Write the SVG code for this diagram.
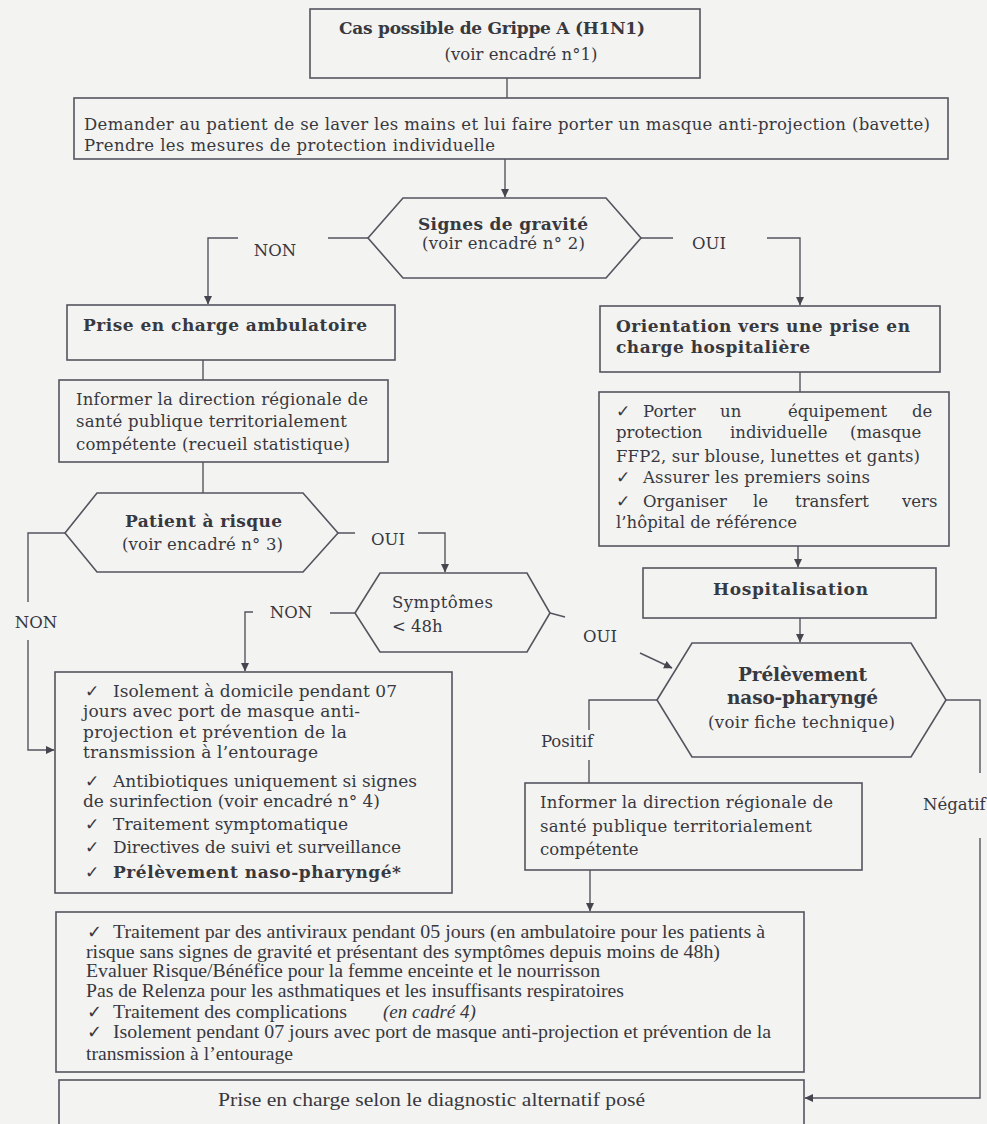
<svg xmlns="http://www.w3.org/2000/svg" width="987" height="1124" viewBox="0 0 987 1124">
<defs>
<marker id="ah" markerWidth="10" markerHeight="10" refX="8" refY="4.5" orient="auto" markerUnits="userSpaceOnUse"><path d="M0,0.5 L8.5,4.5 L0,8.5 z" fill="#45454f"/></marker>
<style>
.bx{fill:#f3f3f1;stroke:#54545f;stroke-width:1.6}
.ln{fill:none;stroke:#54545f;stroke-width:1.4}
.t{font-family:"DejaVu Serif","Liberation Serif",serif;font-size:16.5px;fill:#38383f}
.i{font-size:17px}
.b{font-weight:bold;font-size:17px}
.c{text-anchor:middle}
.n{font-family:"Liberation Serif","DejaVu Serif",serif;font-size:18px;fill:#38383f}
.h{font-family:"Liberation Serif",serif;font-style:italic;font-size:19px;fill:#38383f}
</style>
</defs>
<rect width="987" height="1124" fill="#f3f3f1"/>

<g id="connectors">
<path class="ln" d="M507,78 V98"/>
<path class="ln" d="M505,159 V197" marker-end="url(#ah)"/>
<path class="ln" d="M368,238 H328 M238,238 H208 V304" marker-end="url(#ah)"/>
<path class="ln" d="M641,238 H673 M767,238 H800 V305" marker-end="url(#ah)"/>
<path class="ln" d="M203,360 V380"/>
<path class="ln" d="M203,462 V493"/>
<path class="ln" d="M65,533 H28 V602 M28,640 V750 H54" marker-end="url(#ah)"/>
<path class="ln" d="M338,533 H355 M418,533 H445 V572" marker-end="url(#ah)"/>
<path class="ln" d="M355,613 H330 M253,612 H245 V671" marker-end="url(#ah)"/>
<path class="ln" d="M550,613 L565,617"/>
<path class="ln" d="M640,653 L672,668" marker-end="url(#ah)"/>
<path class="ln" d="M800,372 V392"/>
<path class="ln" d="M798,546 V567" marker-end="url(#ah)"/>
<path class="ln" d="M800,618 V642" marker-end="url(#ah)"/>
<path class="ln" d="M657,700 H589 V730 M589,760 V783"/>
<path class="ln" d="M590,870 V911" marker-end="url(#ah)"/>
<path class="ln" d="M946,700 H980 V773 M980,838 V1098 H805" marker-end="url(#ah)"/>
<text class="t c" x="275" y="256">NON</text>
<text class="t c" x="709" y="249">OUI</text>
<text class="t c" x="36" y="628">NON</text>
<text class="t c" x="388" y="545">OUI</text>
<text class="t c" x="291" y="618">NON</text>
<text class="t c" x="600" y="642">OUI</text>
<text class="t c" x="567" y="747">Positif</text>
<text class="t" x="923" y="810">Négatif</text>
</g>

<g id="n-cas">
<rect class="bx" x="310" y="9" width="390" height="69"/>
<text class="t b" x="339" y="34" textLength="306">Cas possible de Grippe A (H1N1)</text>
<text class="t c" x="521" y="60">(voir encadré n°1)</text>
</g>

<g id="n-demander">
<rect class="bx" x="74" y="98" width="874" height="61"/>
<text class="t" x="84" y="130" textLength="846">Demander au patient de se laver les mains et lui faire porter un masque anti-projection (bavette)</text>
<text class="t" x="84" y="151" textLength="411">Prendre les mesures de protection individuelle</text>
</g>

<g id="n-signes">
<polygon class="bx" points="368,238 403,198 606,198 641,238 606,278 403,278"/>
<text class="t b" x="418" y="230" textLength="170">Signes de gravité</text>
<text class="t" x="422" y="249" textLength="163">(voir encadré n° 2)</text>
</g>

<g id="n-ambulatoire">
<rect class="bx" x="67" y="305" width="328" height="55"/>
<text class="t b" x="83" y="331" textLength="284">Prise en charge ambulatoire</text>
</g>

<g id="n-informer1">
<rect class="bx" x="59" y="380" width="329" height="82"/>
<text class="t" x="76" y="405" textLength="292">Informer la direction régionale de</text>
<text class="t" x="76" y="427" textLength="271">santé publique territorialement</text>
<text class="t" x="76" y="450" textLength="274">compétente (recueil statistique)</text>
</g>

<g id="n-risque">
<polygon class="bx" points="65,533 97,493 303,493 338,533 303,572 97,572"/>
<text class="t b" x="125" y="527" textLength="157">Patient à risque</text>
<text class="t" x="122" y="550" textLength="161">(voir encadré n° 3)</text>
</g>

<g id="n-symptomes">
<polygon class="bx" points="355,613 380,573 527,573 550,613 527,652 380,652"/>
<text class="t" x="392" y="608" textLength="101">Symptômes</text>
<text class="t" x="392" y="632">&lt; 48h</text>
</g>

<g id="n-isolement">
<rect class="bx" x="55" y="672" width="397" height="221"/>
<text class="t i" x="85" y="697">✓</text>
<text class="t i" x="113" y="697" textLength="284">Isolement à domicile pendant 07</text>
<text class="t i" x="83" y="717" textLength="277">jours avec port de masque anti-</text>
<text class="t i" x="83" y="738" textLength="264">projection et prévention de la</text>
<text class="t i" x="83" y="758" textLength="235">transmission à l’entourage</text>
<text class="t i" x="85" y="787">✓</text>
<text class="t i" x="113" y="787" textLength="304">Antibiotiques uniquement si signes</text>
<text class="t i" x="83" y="807" textLength="297">de surinfection (voir encadré n° 4)</text>
<text class="t i" x="85" y="830">✓</text>
<text class="t i" x="113" y="830" textLength="235">Traitement symptomatique</text>
<text class="t i" x="85" y="853">✓</text>
<text class="t i" x="113" y="853" textLength="288">Directives de suivi et surveillance</text>
<text class="t i" x="85" y="878">✓</text>
<text class="t b" x="113" y="878" textLength="288">Prélèvement naso-pharyngé*</text>
</g>

<g id="n-orientation">
<rect class="bx" x="600" y="306" width="340" height="66"/>
<text class="t b" x="616" y="332" textLength="294">Orientation vers une prise en</text>
<text class="t b" x="616" y="353" textLength="194">charge hospitalière</text>
</g>

<g id="n-equipement">
<rect class="bx" x="599" y="392" width="350" height="154"/>
<text class="t" y="417"><tspan x="616">✓</tspan><tspan x="643">Porter</tspan><tspan x="720">un</tspan><tspan x="788">équipement</tspan><tspan x="912">de</tspan></text>
<text class="t" y="438"><tspan x="616">protection</tspan><tspan x="730">individuelle</tspan><tspan x="850">(masque</tspan></text>
<text class="t" x="616" y="462" textLength="304">FFP2, sur blouse, lunettes et gants)</text>
<text class="t" x="616" y="483">✓</text>
<text class="t" x="643" y="483" textLength="227">Assurer les premiers soins</text>
<text class="t" y="507"><tspan x="616">✓</tspan><tspan x="643">Organiser</tspan><tspan x="753">le</tspan><tspan x="795">transfert</tspan><tspan x="902">vers</tspan></text>
<text class="t" x="616" y="528" textLength="181">l’hôpital de référence</text>
</g>

<g id="n-hospitalisation">
<rect class="bx" x="643" y="568" width="293" height="50"/>
<text class="t b" x="713" y="595" textLength="155">Hospitalisation</text>
</g>

<g id="n-prelevement">
<polygon class="bx" points="657,700 692,643 911,643 946,700 911,757 692,757"/>
<text class="t b" x="738" y="681" textLength="129" style="font-size:18.5px">Prélèvement</text>
<text class="t b" x="727" y="704" textLength="151" style="font-size:18.5px">naso-pharyngé</text>
<text class="t" x="708" y="728" textLength="187">(voir fiche technique)</text>
</g>

<g id="n-informer2">
<rect class="bx" x="525" y="783" width="337" height="87"/>
<text class="t" x="540" y="808" textLength="293">Informer la direction régionale de</text>
<text class="t" x="540" y="832" textLength="272">santé publique territorialement</text>
<text class="t" x="540" y="855">compétente</text>
</g>

<g id="n-traitement">
<rect class="bx" x="56" y="912" width="748" height="160"/>
<text class="n" x="87" y="938">✓</text>
<text class="n" x="113" y="938" textLength="652" lengthAdjust="spacingAndGlyphs">Traitement par des antiviraux pendant 05 jours (en ambulatoire pour les patients à</text>
<text class="n" x="86" y="958" textLength="634" lengthAdjust="spacingAndGlyphs">risque sans signes de gravité et présentant des symptômes depuis moins de 48h)</text>
<text class="n" x="86" y="977" textLength="514" lengthAdjust="spacingAndGlyphs">Evaluer  Risque/Bénéfice pour la femme enceinte et le nourrisson</text>
<text class="n" x="86" y="997" textLength="538" lengthAdjust="spacingAndGlyphs">Pas de Relenza pour les asthmatiques et les insuffisants respiratoires</text>
<text class="n" x="87" y="1018">✓</text>
<text class="n" x="113" y="1018" textLength="234" lengthAdjust="spacingAndGlyphs">Traitement des complications</text>
<text class="h" x="383" y="1018">(en cadré 4)</text>
<text class="n" x="87" y="1038">✓</text>
<text class="n" x="113" y="1038" textLength="658" lengthAdjust="spacingAndGlyphs">Isolement pendant 07 jours avec port de masque anti-projection et prévention de la</text>
<text class="n" x="86" y="1060" textLength="207" lengthAdjust="spacingAndGlyphs">transmission à l’entourage</text>
</g>

<g id="n-alternatif">
<rect class="bx" x="59" y="1080" width="745" height="50"/>
<text class="n" x="218" y="1106" textLength="427" lengthAdjust="spacingAndGlyphs">Prise en charge selon le diagnostic alternatif posé</text>
</g>
</svg>
